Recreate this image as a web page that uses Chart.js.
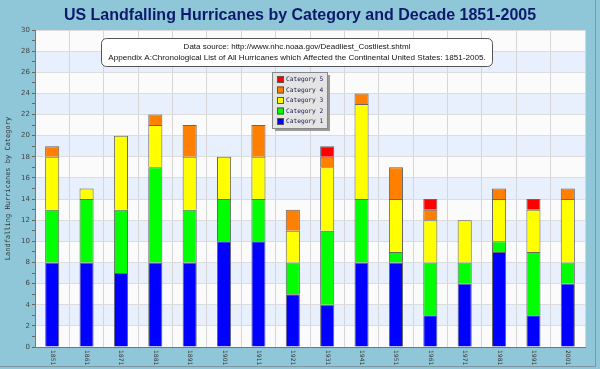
<!DOCTYPE html>
<html>
<head>
<meta charset="utf-8">
<script src="https://cdn.jsdelivr.net/npm/chart.js@4/dist/chart.umd.min.js"></script>
<style>
  body { margin: 0; background: #8fc7d9; }
  #wrap { width: 600px; height: 369px; position: relative; }
</style>
</head>
<body>
<div id="wrap"><canvas id="myChart" width="600" height="369"></canvas></div>
<script>
// data
const decades = ["1851", "1861", "1871", "1881", "1891", "1901", "1911", "1921",
  "1931", "1941", "1951", "1961", "1971", "1981", "1991", "2001"];
const cat1 = [8, 8, 7, 8, 8, 10, 10, 5, 4, 8, 8, 3, 6, 9, 3, 6];
const cat2 = [5, 6, 6, 9, 5, 4, 4, 3, 7, 6, 1, 5, 2, 1, 6, 2];
const cat3 = [5, 1, 7, 4, 5, 4, 4, 3, 6, 9, 5, 4, 4, 4, 4, 6];
const cat4 = [1, 0, 0, 1, 3, 0, 3, 2, 1, 1, 3, 1, 0, 1, 0, 1];
const cat5 = [0, 0, 0, 0, 0, 0, 0, 0, 1, 0, 0, 1, 0, 0, 1, 0];
const seriesNames = ["Category 1", "Category 2", "Category 3", "Category 4", "Category 5"];
const seriesColors = ["#0000ff", "#00ff00", "#ffff00", "#ff8000", "#ff0000"];
const yMax = 30;

const titleText = "US Landfalling Hurricanes by Category and Decade 1851-2005";
const noteLines = [
  "Data source: http://www.nhc.noaa.gov/Deadliest_Costliest.shtml",
  "Appendix A:Chronological List of All Hurricanes which Affected the Continental United States: 1851-2005."
];

// frame, title, bands behind the bars
const backPlugin = {
  id: "back",
  beforeDraw(chart) {
    const { ctx, chartArea: a, scales: { y } } = chart;
    ctx.save();
    ctx.fillStyle = "#8fc7d9";
    ctx.fillRect(0, 0, chart.width, chart.height);
    ctx.strokeStyle = "#7d98a3";
    ctx.lineWidth = 1;
    ctx.beginPath();
    ctx.moveTo(595.5, 0);
    ctx.lineTo(595.5, 366.5);
    ctx.lineTo(0, 366.5);
    ctx.stroke();
    // alternating bands every 2 units
    for (let v = 0; v < yMax; v += 2) {
      const top = y.getPixelForValue(v + 2);
      const bot = y.getPixelForValue(v);
      ctx.fillStyle = (v / 2) % 2 === 0 ? "#fbfbfb" : "#e8effd";
      ctx.fillRect(a.left, top, a.right - a.left, bot - top);
    }
    ctx.fillStyle = "#0d1a6b";
    ctx.font = "bold 16px 'Liberation Sans', Arial, sans-serif";
    ctx.textAlign = "center";
    ctx.textBaseline = "middle";
    ctx.fillText(titleText, 300, 16);
    ctx.restore();
  }
};

// note box, legend box, rotated x labels on top
const frontPlugin = {
  id: "front",
  afterDraw(chart) {
    const { ctx, chartArea: a, scales: { x } } = chart;
    ctx.save();

    // x labels, rotated clockwise
    ctx.fillStyle = "#333";
    ctx.font = "6px 'DejaVu Sans', sans-serif";
    ctx.textAlign = "left";
    ctx.textBaseline = "middle";
    decades.forEach((d, i) => {
      const px = x.getPixelForValue(i);
      ctx.save();
      ctx.translate(px, a.bottom + 3);
      ctx.rotate(Math.PI / 2);
      ctx.fillText(d, 0, 0);
      ctx.restore();
    });

    // note box
    ctx.beginPath();
    ctx.roundRect(101.5, 38.5, 391, 28, 5);
    ctx.fillStyle = "#ffffff";
    ctx.fill();
    ctx.strokeStyle = "#555";
    ctx.lineWidth = 1;
    ctx.stroke();
    ctx.fillStyle = "#111";
    ctx.textAlign = "center";
    ctx.font = "8px 'Liberation Sans', Arial, sans-serif";
    ctx.fillText(noteLines[0], 297, 46.5);
    ctx.font = "8.1px 'Liberation Sans', Arial, sans-serif";
    ctx.fillText(noteLines[1], 297, 58);

    // legend box
    const lx = 272, ly = 72, lw = 55, lh = 56;
    ctx.fillStyle = "#9a9a9a";
    ctx.fillRect(lx + 3, ly + 3, lw, lh);
    ctx.fillStyle = "#e4e4e4";
    ctx.fillRect(lx, ly, lw, lh);
    ctx.strokeStyle = "#888";
    ctx.strokeRect(lx + 0.5, ly + 0.5, lw, lh);
    ctx.font = "6.2px 'DejaVu Sans Mono', monospace";
    ctx.textAlign = "left";
    const ds = chart.data.datasets;
    for (let k = ds.length - 1, row = 0; k >= 0; k--, row++) {
      const ry = ly + 7.5 + row * 10.5;
      ctx.fillStyle = ds[k].backgroundColor;
      ctx.fillRect(lx + 5, ry - 3.5, 7, 7);
      ctx.strokeStyle = "#555";
      ctx.strokeRect(lx + 5.5, ry - 3, 6, 6);
      ctx.fillStyle = "#1a1a50";
      ctx.fillText(ds[k].label, lx + 14, ry);
    }
    ctx.restore();
  }
};

const allSeries = [cat1, cat2, cat3, cat4, cat5];

const ctx = document.getElementById("myChart").getContext("2d");
const myChart = new Chart(ctx, {
  type: "bar",
  data: {
    labels: decades,
    datasets: allSeries.map((vals, i) => ({
      label: seriesNames[i],
      data: vals,
      backgroundColor: seriesColors[i],
      borderColor: "#666",
      borderWidth: (c) => (c.raw ? { top: 1, left: 1, right: 1, bottom: 0 } : 0),
      borderSkipped: false,
      categoryPercentage: 1,
      barPercentage: 0.41,
    })),
  },
  options: {
    responsive: false,
    animation: false,
    layout: { padding: { top: 30, right: 15, left: 0, bottom: 0 } },
    plugins: {
      legend: { display: false },
      tooltip: { enabled: false },
    },
    scales: {
      x: {
        stacked: true,
        offset: true,
        grid: { offset: true, color: "#d6d6d6", tickLength: 0 },
        border: { color: "#777" },
        ticks: { display: false },
        afterFit: (scale) => { scale.height = 22; },
      },
      y: {
        stacked: true,
        min: 0,
        max: yMax,
        ticks: {
          stepSize: 1,
          autoSkip: false,
          padding: 2,
          color: "#444",
          font: { size: 7, family: "'DejaVu Sans', sans-serif" },
          callback: (v) => (v % 2 === 0 ? v : ""),
        },
        grid: {
          tickLength: 3,
          color: (c) => (c.tick && c.tick.value % 2 === 0 ? "#dcdcdc" : "rgba(0,0,0,0)"),
          tickColor: "#666",
        },
        border: { color: "#777" },
        title: {
          display: true,
          text: "Landfalling Hurricanes by Category",
          color: "#333",
          font: { size: 7, family: "'DejaVu Sans Mono', monospace" },
          padding: { top: 4, bottom: 0 },
        },
        afterFit: (scale) => { scale.width = 35; },
      },
    },
  },
  plugins: [backPlugin, frontPlugin],
});
</script>
</body>
</html>
